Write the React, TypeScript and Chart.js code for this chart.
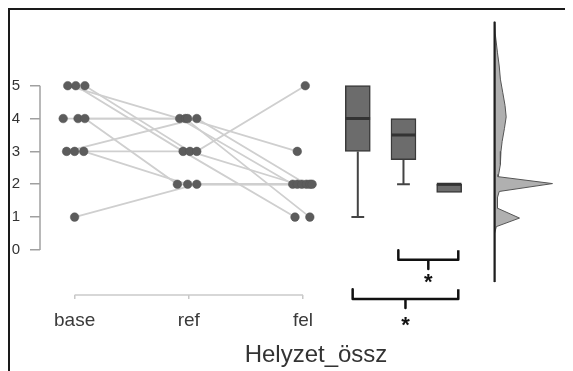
import React, { useEffect, useRef } from 'react';
import { Chart, registerables } from 'chart.js';

Chart.register(...registerables);

// ---------- data ----------
const X_LABELS = ['base', 'ref', 'fel'];
const Y_TICKS = [0, 1, 2, 3, 4, 5];
const X_TITLE = 'Helyzet_össz';

// paired values per subject
const BASE = [5, 5, 5, 4, 4, 4, 3, 3, 3, 1];
const REF = [4, 3, 3, 4, 4, 2, 4, 3, 2, 2];
const FEL = [2, 1, 2, 1, 3, 2, 2, 5, 2, 2];
// horizontal jitter of each dot
const JIT_BASE = [-0.06, 0.01, 0.09, -0.1, 0.03, 0.09, -0.07, 0.0, 0.08, 0.0];
const JIT_REF = [-0.08, -0.05, 0.01, -0.03, -0.01, -0.1, 0.07, 0.07, -0.01, 0.07];
const JIT_FEL = [-0.09, -0.07, -0.05, 0.06, -0.05, -0.01, 0.03, 0.02, 0.06, 0.08];

// box plot statistics (base, ref, fel)
const BOX_LOW = [1, 2, 1.75];
const BOX_Q1 = [3, 2.75, 1.75];
const BOX_MEDIAN = [4, 3.5, 2];
const BOX_Q3 = [5, 4, 2];
const BOX_HIGH = [5, 4, 2];

// density (value, relative density)
const DENS_Y = [6.95, 6.6, 6.3, 6.0, 5.6, 5.2, 4.8, 4.4, 4.05, 3.7, 3.3, 3.0, 2.6, 2.3, 2.23, 2.02, 1.78, 1.6, 1.4, 1.27, 0.97, 0.71, 0.5, -0.98];
const DENS_W = [0, 0.01, 0.03, 0.05, 0.08, 0.1, 0.14, 0.18, 0.2, 0.17, 0.13, 0.11, 0.1, 0.07, 0.06, 1.0, 0.08, 0.05, 0.05, 0.05, 0.43, 0.03, 0, 0];

// significance comparisons (box indices)
const SIG_PAIRS = [[1, 2], [0, 2]];
const SIG_LABELS = ['*', '*'];

// ---------- layout ----------
const X_MIN = 0.697, X_MAX = 5.277, Y_MIN = -1.372, Y_MAX = 7;
const BOX_X0 = 3.48, BOX_DX = 0.4, BOX_HALF = 0.108, CAP_HALF = 0.056;
const DENS_X0 = 4.678, DENS_SCALE = 0.507;
const BRACKET_Y = [-0.3, -1.49];
const BRACKET_ARM = 0.29, BRACKET_TICK = 0.28;
const STAR_DROP = [0.55, 0.67];
const BR_LEFT = -0.045, BR_RIGHT = 0.08;
const FONT = '"Liberation Sans", Arial, sans-serif';

const boxX = (i: number) => BOX_X0 + i * BOX_DX;
const GAP = (x: number) => ({ x, y: null as any });

function buildDatasets() {
  const ds: any[] = [];
  // dots
  const pts: any[] = [];
  BASE.forEach((v, i) => pts.push({ x: 1 + JIT_BASE[i], y: v }));
  REF.forEach((v, i) => pts.push({ x: 2 + JIT_REF[i], y: v }));
  FEL.forEach((v, i) => pts.push({ x: 3 + JIT_FEL[i], y: v }));
  ds.push({
    type: 'scatter', data: pts, pointRadius: 4.3, backgroundColor: '#5c5c5c',
    borderColor: '#555', borderWidth: 0.5, order: 0,
  });
  // subject lines
  BASE.forEach((v, i) => {
    ds.push({
      type: 'line',
      data: [
        { x: 1 + JIT_BASE[i], y: v },
        { x: 2 + JIT_REF[i], y: REF[i] },
        { x: 3 + JIT_FEL[i], y: FEL[i] },
      ],
      borderColor: '#cfcfcf', borderWidth: 1.8, pointRadius: 0, fill: false, order: 20,
    });
  });
  // boxes
  ds.push({
    type: 'bar',
    data: BOX_Q1.map((q, i) => ({ x: boxX(i), y: [q, BOX_Q3[i]] })),
    backgroundColor: '#6c6c6c', borderColor: '#3a3a3a', borderWidth: 1.5,
    borderSkipped: false, barThickness: 25, grouped: false, order: 4,
  });
  // medians
  const med: any[] = [];
  BOX_MEDIAN.forEach((m, i) => {
    med.push({ x: boxX(i) - BOX_HALF, y: m }, { x: boxX(i) + BOX_HALF, y: m }, GAP(boxX(i)));
  });
  ds.push({ type: 'line', data: med, borderColor: '#333', borderWidth: 3, pointRadius: 0, spanGaps: false, order: 2 });
  // whiskers
  const wh: any[] = [];
  BOX_LOW.forEach((lo, i) => {
    const c = boxX(i);
    if (lo < BOX_Q1[i]) {
      wh.push({ x: c, y: BOX_Q1[i] }, { x: c, y: lo }, GAP(c));
      wh.push({ x: c - CAP_HALF, y: lo }, { x: c + CAP_HALF, y: lo }, GAP(c));
    }
    if (BOX_HIGH[i] > BOX_Q3[i]) {
      wh.push({ x: c, y: BOX_Q3[i] }, { x: c, y: BOX_HIGH[i] }, GAP(c));
      wh.push({ x: c - CAP_HALF, y: BOX_HIGH[i] }, { x: c + CAP_HALF, y: BOX_HIGH[i] }, GAP(c));
    }
  });
  ds.push({ type: 'line', data: wh, borderColor: '#444', borderWidth: 2, pointRadius: 0, spanGaps: false, order: 6 });
  // density
  const dens: any[] = DENS_Y.map((y, i) => ({ x: DENS_X0 + DENS_W[i] * DENS_SCALE, y }));
  dens.push({ x: DENS_X0, y: DENS_Y[DENS_Y.length - 1] }, { x: DENS_X0, y: DENS_Y[0] });
  ds.push({
    type: 'line', data: dens, fill: 'shape', backgroundColor: 'rgba(150,150,150,0.75)',
    borderColor: '#555', borderWidth: 1, pointRadius: 0, order: 8,
  });
  ds.push({
    type: 'line', data: [{ x: DENS_X0, y: DENS_Y[0] }, { x: DENS_X0, y: DENS_Y[DENS_Y.length - 1] }],
    borderColor: '#1e1e1e', borderWidth: 2.2, pointRadius: 0, order: 7,
  });
  // brackets
  SIG_PAIRS.forEach(([a, b], k) => {
    const x1 = boxX(a) + BR_LEFT, x2 = boxX(b) + BR_RIGHT, yl = BRACKET_Y[k];
    const xc = (x1 + x2) / 2;
    ds.push({
      type: 'line',
      data: [
        { x: x1, y: yl + BRACKET_ARM }, { x: x1, y: yl }, { x: x2, y: yl }, { x: x2, y: yl + BRACKET_ARM },
        GAP(x2), { x: xc, y: yl }, { x: xc, y: yl - BRACKET_TICK },
      ],
      borderColor: '#111', borderWidth: 2.5, pointRadius: 0, spanGaps: false, clip: false,
      borderJoinStyle: 'round', order: 1,
    });
  });
  return ds;
}

const overlay = {
  id: 'overlay',
  afterDraw(chart: any) {
    const { ctx, chartArea } = chart;
    const x = chart.scales.x, y = chart.scales.y;
    ctx.save();
    // y axis line (0..5)
    ctx.strokeStyle = '#a0a0a0';
    ctx.lineWidth = 1.5;
    ctx.beginPath();
    ctx.moveTo(chartArea.left, y.getPixelForValue(Y_TICKS[0]));
    ctx.lineTo(chartArea.left, y.getPixelForValue(Y_TICKS[Y_TICKS.length - 1]));
    ctx.stroke();
    // x axis line (base..fel)
    ctx.strokeStyle = '#cacaca';
    ctx.beginPath();
    ctx.moveTo(x.getPixelForValue(1), chartArea.bottom);
    ctx.lineTo(x.getPixelForValue(X_LABELS.length), chartArea.bottom);
    ctx.stroke();
    // stars
    ctx.fillStyle = '#111';
    ctx.font = `bold 22px ${FONT}`;
    ctx.textAlign = 'center';
    ctx.textBaseline = 'middle';
    SIG_PAIRS.forEach(([a, b], k) => {
      const xc = (boxX(a) + BR_LEFT + boxX(b) + BR_RIGHT) / 2;
      ctx.fillText(SIG_LABELS[k], x.getPixelForValue(xc), y.getPixelForValue(BRACKET_Y[k] - STAR_DROP[k]) + 5);
    });
    // axis title
    ctx.fillStyle = '#333';
    ctx.font = `24px ${FONT}`;
    ctx.textBaseline = 'alphabetic';
    ctx.fillText(X_TITLE, 306, 352);
    ctx.restore();
  },
};

export default function App() {
  const ref = useRef<HTMLCanvasElement>(null);
  useEffect(() => {
    Chart.defaults.font.family = FONT;
    const chart = new Chart(ref.current as HTMLCanvasElement, {
      type: 'scatter',
      data: { datasets: buildDatasets() },
      plugins: [overlay],
      options: {
        animation: false,
        responsive: false,
        events: [],
        layout: { padding: { top: 10, right: 10, left: 0, bottom: 0 } },
        plugins: { legend: { display: false }, tooltip: { enabled: false } },
        scales: {
          x: {
            type: 'linear', min: X_MIN, max: X_MAX, offset: false,
            afterBuildTicks: (s: any) => { s.ticks = X_LABELS.map((_, i) => ({ value: i + 1 })); },
            afterFit: (s: any) => { s.height = 76; s.paddingLeft = 0; s.paddingRight = 0; },
            ticks: {
              callback: (v: any) => X_LABELS[Math.round(v) - 1] ?? '',
              font: { size: 19 }, color: '#3a3a3a', padding: 10, maxRotation: 0, autoSkip: false,
            },
            grid: { drawOnChartArea: false, tickLength: 4, color: '#c8c8c8', lineWidth: 1.5, offset: false },
            border: { display: false },
          },
          y: {
            type: 'linear', min: Y_MIN, max: Y_MAX,
            afterBuildTicks: (s: any) => { s.ticks = Y_TICKS.map((v) => ({ value: v })); },
            afterFit: (s: any) => { s.width = 30; s.paddingTop = 0; s.paddingBottom = 0; },
            ticks: { font: { size: 15 }, color: '#333', padding: 10 },
            grid: { drawOnChartArea: false, tickLength: 10, color: '#a0a0a0', lineWidth: 1.5 },
            border: { display: false },
          },
        },
      } as any,
    } as any);
    return () => chart.destroy();
  }, []);
  return (
    <div style={{ width: 563, height: 361, borderLeft: '2px solid #1a1a1a', borderTop: '2px solid #1a1a1a' }}>
      <canvas ref={ref} width={563} height={361} style={{ display: 'block' }} />
    </div>
  );
}
